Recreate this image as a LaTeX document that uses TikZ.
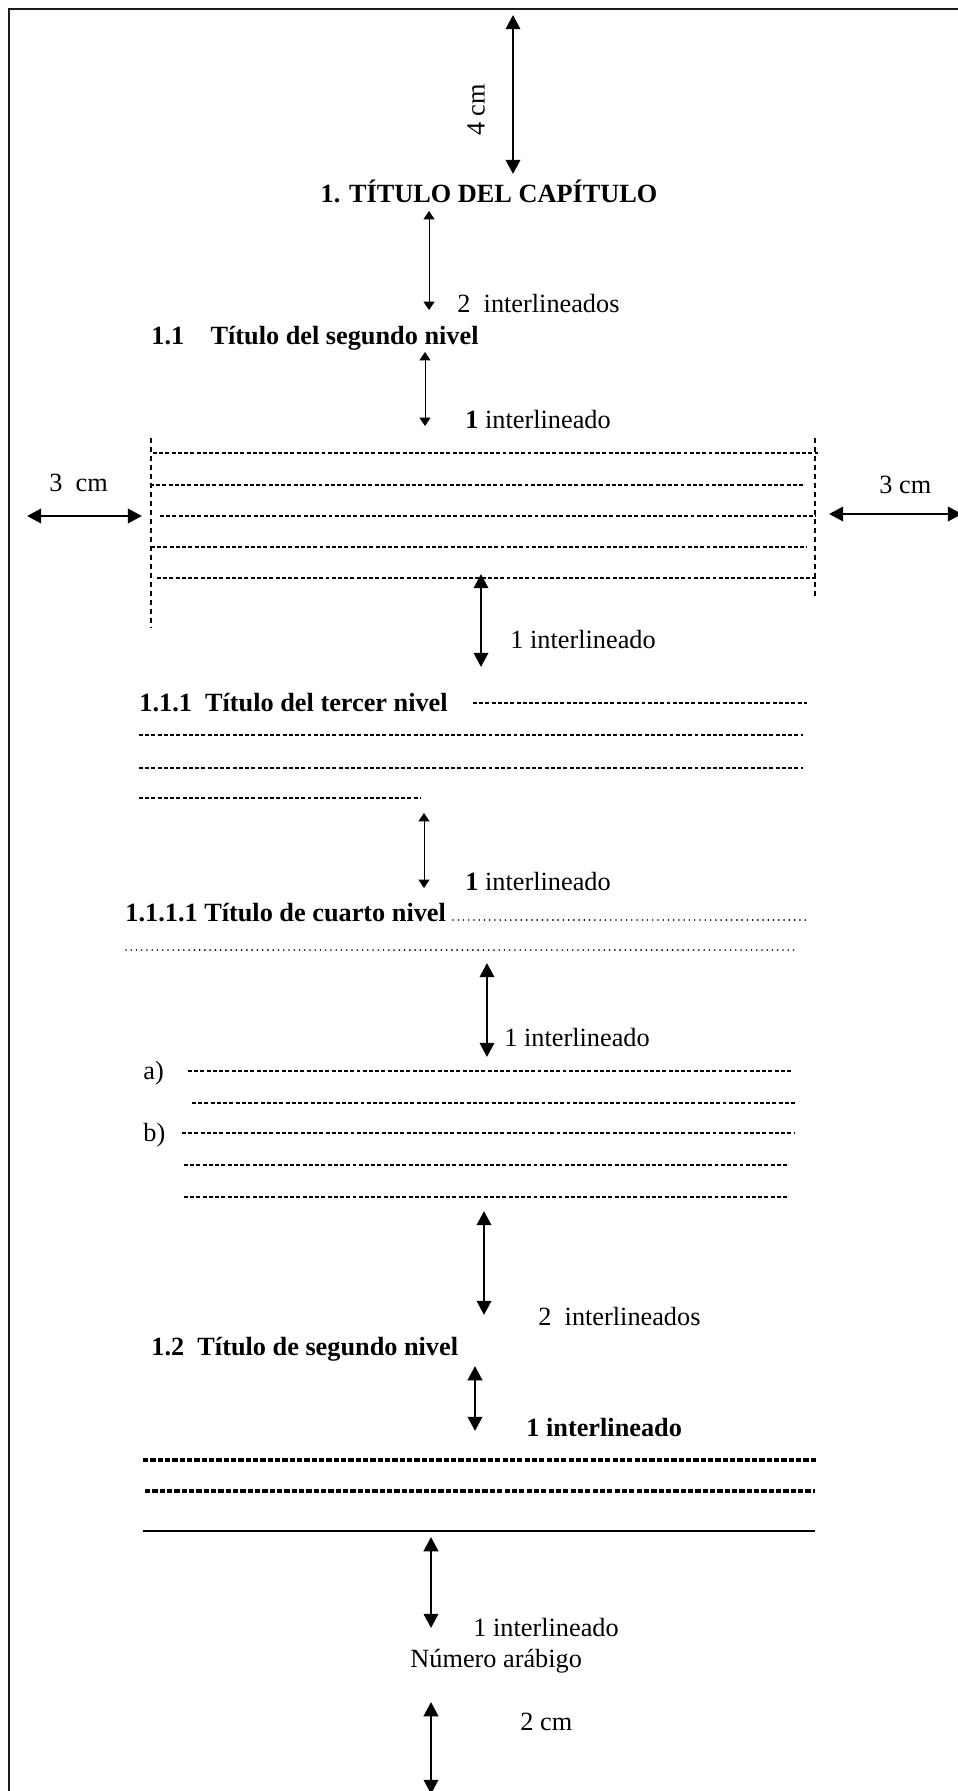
\documentclass[tikz,border=0pt]{standalone}
\usepackage{fontspec}
\setmainfont{Liberation Serif}
\usetikzlibrary{arrows.meta}
\definecolor{inkblack}{HTML}{000000}
\definecolor{framegray}{HTML}{1A1A1A}
\newcommand{\gaparrow}[5]{%
	\coordinate (#1top) at (#2,#3);
	\coordinate (#1bot) at (#2,#4);
	\draw[#5] (#1top) -- (#1bot);
}

\begin{document}
\begin{tikzpicture}[x=0.4566pt,y=-0.4566pt,
	lbl/.style={anchor=base west, inner sep=0pt, text=inkblack, font=\fontsize{12pt}{14pt}\selectfont},
	head/.style={lbl, font=\fontsize{12pt}{14pt}\selectfont\bfseries},
	thinarrow/.style={{Triangle[width=5pt,length=3.8pt]}-{Triangle[width=5pt,length=3.8pt]}, line width=0.45pt, inkblack},
	thickarrow/.style={{Triangle[width=6.6pt,length=6.5pt]}-{Triangle[width=6.6pt,length=6.5pt]}, line width=1.1pt, inkblack},
	hyphrow/.style={line width=0.6pt, dash pattern=on 1.8pt off 1.05pt, inkblack},
	boldrow/.style={line width=1.5pt, dash pattern=on 2.4pt off 0.95pt, inkblack},
	dotrow/.style={line width=0.85pt, line cap=round, dash pattern=on 0pt off 2.4pt, inkblack},
	marginline/.style={line width=0.75pt, dash pattern=on 2.4pt off 1.7pt, inkblack}]
	% Fixed white page, same size as the reference.
	\path[use as bounding box] (0,0) rectangle (957,1791);
	\fill[white] (0,0) rectangle (957,1791);

	% Page frame (only top and left edges fall inside the sheet).
	\draw[framegray, line width=0.9pt] (9,1800) -- (9,9) -- (970,9);

	% Top margin and chapter title.
	\gaparrow{topm}{513}{15}{174}{thickarrow}
	\node[rotate=90, inner sep=0pt, font=\fontsize{12pt}{14pt}\selectfont] (fourcm) at (476,110) {4 cm};
	\node[head, anchor=base] (chaptitle) at (489,203) {1. TÍTULO DEL CAPÍTULO};

	\gaparrow{gapa}{429}{211}{310}{thinarrow}
	\node[lbl] (gapalbl) at (457,313) {2\ \ interlineados};
	\node[head] (sec11) at (151,345) {1.1\hspace{12pt}Título del segundo nivel};
	\gaparrow{gapb}{425}{352}{426}{thinarrow}
	\node[lbl] (gapblbl) at (465,428) {\textbf{1} interlineado};

	% Text block with lateral margins.
	\draw[marginline] (151,438) -- (151,628);
	\draw[marginline] (815,438) -- (815,597);
	\foreach \y/\xa/\xb in {453/153/818, 485/150/805, 516/160/816, 547/151/807, 578/157/816} {
		\draw[hyphrow] (\xa,\y) -- (\xb,\y);
	}
	\node[lbl] (leftcm) at (49,491) {3\ \ cm};
	\coordinate (leftouter) at (27,516);
	\coordinate (leftinner) at (142,516);
	\draw[thickarrow] (leftouter) -- (leftinner);
	\node[lbl] (rightcm) at (879,493) {3 cm};
	\coordinate (rightinner) at (829,514);
	\coordinate (rightouter) at (962,514);
	\draw[thickarrow] (rightinner) -- (rightouter);

	\gaparrow{gapc}{481}{574}{667}{thickarrow}
	\node[lbl] (gapclbl) at (510,648) {1 interlineado};

	% Third level heading and its paragraph.
	\node[head] (sec111) at (139,711) {1.1.1\ \ Título del tercer nivel};
	\foreach \y/\xa/\xb in {703/473/807, 735/139/803, 768/139/803, 798/139/421} {
		\draw[hyphrow] (\xa,\y) -- (\xb,\y);
	}
	\gaparrow{gapd}{424}{813}{888}{thinarrow}
	\node[lbl] (gapdlbl) at (465,890) {\textbf{1} interlineado};

	% Fourth level heading.
	\node[head] (sec1111) at (125,921) {1.1.1.1 Título de cuarto nivel};
	\draw[dotrow] (453,920) -- (806,920);
	\draw[dotrow] (126,950) -- (794,950);
	\gaparrow{gape}{487}{963}{1057}{thickarrow}
	\node[lbl] (gapelbl) at (504,1046) {1 interlineado};

	% Lettered list.
	\node[lbl] (itema) at (143,1079) {a)};
	\node[lbl] (itemb) at (143,1141) {b)};
	\foreach \y/\xa/\xb in {1071/188/792, 1103/192/797, 1133/182/794, 1165/184/789, 1197/184/789} {
		\draw[hyphrow] (\xa,\y) -- (\xb,\y);
	}
	\gaparrow{gapf}{484}{1211}{1315}{thickarrow}
	\node[lbl] (gapflbl) at (538,1325) {2\ \ interlineados};

	% Second heading of level two.
	\node[head] (sec12) at (151,1355) {1.2\ \ Título de segundo nivel};
	\gaparrow{gapg}{475}{1366}{1431}{thickarrow}
	\node[head] (gapglbl) at (526,1436) {1 interlineado};
	\draw[boldrow] (143,1460) -- (817,1460);
	\draw[boldrow] (145,1491) -- (815,1491);
	\draw[inkblack, line width=0.7pt] (143,1531) -- (815,1531);

	% Page number and bottom margin.
	\gaparrow{gaph}{431}{1537}{1628}{thickarrow}
	\node[lbl] (gaphlbl) at (473,1636) {1 interlineado};
	\node[lbl] (pagenum) at (410,1667) {Número arábigo};
	\gaparrow{botm}{431}{1702}{1794}{thickarrow}
	\node[lbl] (twocm) at (520,1730) {2 cm};
\end{tikzpicture}
\end{document}
